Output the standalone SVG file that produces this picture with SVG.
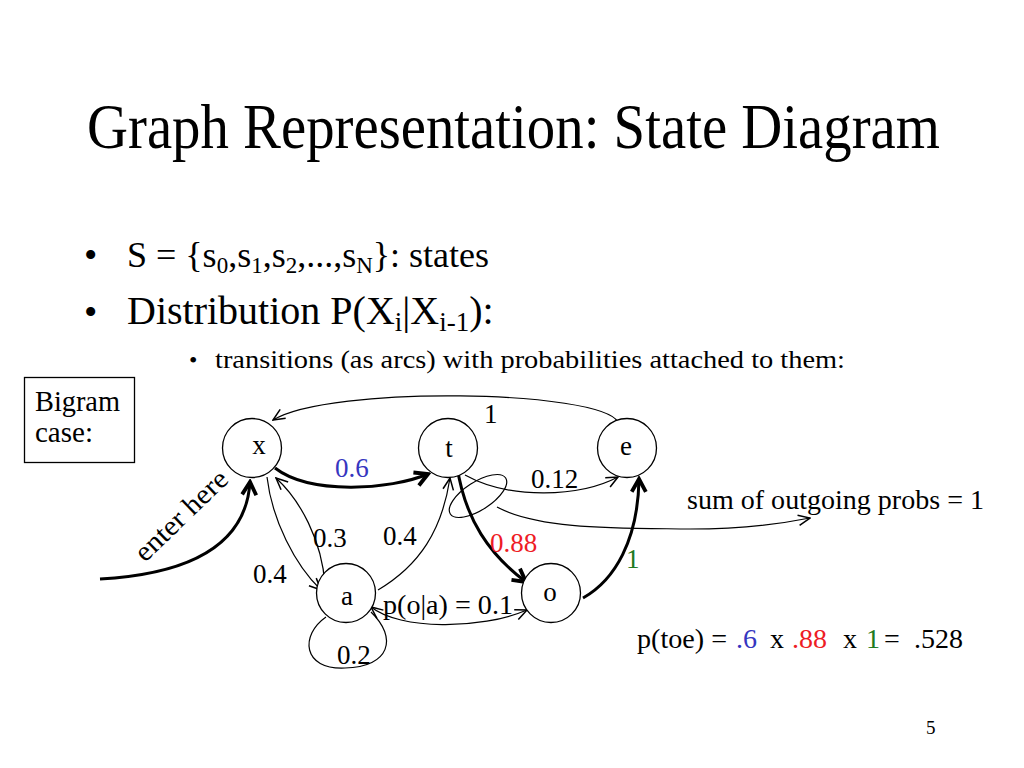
<svg xmlns="http://www.w3.org/2000/svg" width="1024" height="768" viewBox="0 0 1024 768">
<style>
text { font-family: "Liberation Serif", "Times New Roman", serif; fill: #000; }
.node circle { fill: #fff; stroke: #000; stroke-width: 1.3; }
.nl { font-size: 27px; text-anchor: middle; }
.el { font-size: 27px; }
.thin { fill: none; stroke: #000; stroke-width: 1.2; marker-end: url(#ah); }
.thick { fill: none; stroke: #000; stroke-width: 3; marker-end: url(#ahb); }
.blue { fill: #3636C0; }
.red { fill: #EE1C25; }
.green { fill: #217A21; }
</style>
<defs>
<marker id="ah" markerUnits="userSpaceOnUse" markerWidth="14" markerHeight="14" viewBox="0 0 12 12" refX="11" refY="6" orient="auto">
<path d="M1,1.5 L11,6 L1,10.5" fill="none" stroke="#000" stroke-width="1.3"/>
</marker>
<marker id="ahs" markerUnits="userSpaceOnUse" markerWidth="14" markerHeight="14" viewBox="0 0 12 12" refX="11" refY="6" orient="auto-start-reverse">
<path d="M1,1.5 L11,6 L1,10.5" fill="none" stroke="#000" stroke-width="1.3"/>
</marker>
<marker id="ahb" markerUnits="userSpaceOnUse" markerWidth="18" markerHeight="18" viewBox="0 0 14 14" refX="12" refY="7" orient="auto">
<path d="M2,1.5 L12,7 L2,12.5" fill="none" stroke="#000" stroke-width="3"/>
</marker>
</defs>
<rect width="1024" height="768" fill="#fff"/>

<text x="87" y="131" font-size="56" transform="scale(1,1.13)" textLength="853" lengthAdjust="spacingAndGlyphs">Graph Representation: State Diagram</text>

<text x="84" y="268" font-size="38">•</text>
<text x="127" y="267" font-size="36">S = {s<tspan font-size="23" dy="6">0</tspan><tspan dy="-6">,s</tspan><tspan font-size="23" dy="6">1</tspan><tspan dy="-6">,s</tspan><tspan font-size="23" dy="6">2</tspan><tspan dy="-6">,...,s</tspan><tspan font-size="23" dy="6">N</tspan><tspan dy="-6">}: states</tspan></text>
<text x="84" y="325" font-size="38">•</text>
<text x="127" y="324" font-size="40">Distribution P(X<tspan font-size="27" dy="7">i</tspan><tspan dy="-7">|X</tspan><tspan font-size="27" dy="7">i-1</tspan><tspan dy="-7">):</tspan></text>
<text x="189" y="368" font-size="24">•</text>
<text x="215" y="368" font-size="26" textLength="630" lengthAdjust="spacingAndGlyphs">transitions (as arcs) with probabilities attached to them:</text>

<g id="bigram-box">
<rect x="24.5" y="377.5" width="110" height="85" fill="none" stroke="#000" stroke-width="1.3"/>
<text x="35" y="411" font-size="29" textLength="85" lengthAdjust="spacingAndGlyphs">Bigram</text>
<text x="35" y="442" font-size="29">case:</text>
</g>

<g id="connectors">
<path id="e-x" class="thin" d="M618,422 C600,390 330,385 273,420"/>
<path id="x-t" class="thick" d="M275,468 C310,495 390,490 428,474"/>
<path id="enter" class="thick" d="M100,579 C190,574 246,545 250,482"/>
<path id="x-a" class="thin" d="M267,477 C272,520 295,565 321,590"/>
<path id="a-x" class="thin" d="M325,585 C322,540 300,500 276,478"/>
<path id="a-t" class="thin" d="M378,590 C420,565 442,530 450,478"/>
<path id="t-o" class="thick" d="M457,466 C465,520 490,555 526,582"/>
<path id="t-e" class="thin" d="M465,475 C510,500 580,497 618,477"/>
<path id="o-e" class="thick" d="M583,598 C615,580 638,540 639,479"/>
<path id="a-o" fill="none" stroke="#000" stroke-width="1.2" marker-start="url(#ahs)" marker-end="url(#ah)" d="M371,607 C400,630 480,630 527,610"/>
<path id="a-a" fill="none" stroke="#000" stroke-width="1.2" d="M326,617 C300,635 302,670 345,668 C390,667 398,638 371,612"/>
<ellipse id="group-ellipse" cx="478" cy="496" rx="33" ry="14" transform="rotate(-33 478 496)" fill="none" stroke="#000" stroke-width="1.2"/>
<path id="sum-arrow" class="thin" d="M497,507 C540,530 620,528 690,529 C740,529 780,524 810,518"/>
</g>

<g id="node-x" class="node"><circle cx="252" cy="448" r="29.5"/><text class="nl" x="259" y="454">x</text></g>
<g id="node-t" class="node"><circle cx="448" cy="448" r="29.5"/><text class="nl" x="449" y="457">t</text></g>
<g id="node-e" class="node"><circle cx="627" cy="448" r="29.5"/><text class="nl" x="626" y="455">e</text></g>
<g id="node-a" class="node"><circle cx="346" cy="593" r="29.5"/><text class="nl" x="347" y="605">a</text></g>
<g id="node-o" class="node"><circle cx="551" cy="593" r="29.5"/><text class="nl" x="550" y="601">o</text></g>

<g id="edge-labels">
<text class="el" x="484" y="423">1</text>
<text class="el blue" x="335" y="477">0.6</text>
<text class="el" x="313" y="547">0.3</text>
<text class="el" x="383" y="545">0.4</text>
<text class="el" x="253" y="583">0.4</text>
<text class="el" x="383" y="614" textLength="130" lengthAdjust="spacingAndGlyphs">p(o|a) = 0.1</text>
<text class="el" x="337" y="664">0.2</text>
<text class="el" x="531" y="488">0.12</text>
<text class="el red" x="490" y="552">0.88</text>
<text class="el green" x="626" y="568">1</text>
<text font-size="28" x="0" y="0" transform="translate(145,563) rotate(-44)" textLength="118" lengthAdjust="spacingAndGlyphs">enter here</text>
</g>

<text x="687" y="509" font-size="28" textLength="297" lengthAdjust="spacingAndGlyphs">sum of outgoing probs = 1</text>
<text y="648" font-size="28"><tspan x="637" textLength="90" lengthAdjust="spacingAndGlyphs">p(toe) =</tspan><tspan x="736" class="blue">.6</tspan><tspan x="770">x</tspan><tspan x="792" class="red">.88</tspan><tspan x="843">x</tspan><tspan x="866" class="green">1</tspan><tspan x="884">=</tspan><tspan x="914" textLength="49" lengthAdjust="spacingAndGlyphs">.528</tspan></text>
<text x="926" y="734" font-size="19">5</text>
</svg>
